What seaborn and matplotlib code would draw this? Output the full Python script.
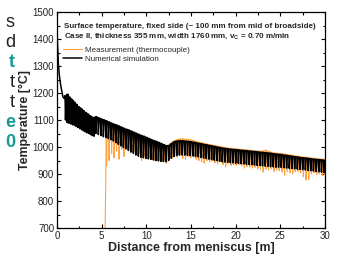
import pandas as pd
import matplotlib
matplotlib.use("Agg")
import matplotlib.pyplot as plt
from matplotlib.ticker import MultipleLocator
import seaborn as sns

# ====== DATA ======
# numerical simulation: steep drop right below the meniscus
sim_start_x = [0.0, 0.05, 0.1, 0.15, 0.25, 0.35, 0.45, 0.55, 0.67, 0.8]
sim_start_y = [1425, 1385, 1345, 1310, 1270, 1243, 1222, 1205, 1185, 1180]

# roll contacts: position [m], temperature between rolls, temperature at the roll
sim_roll_x = [
    0.9, 1.1, 1.3, 1.5, 1.7, 1.9, 2.1, 2.3, 2.5, 2.7, 2.9, 3.1, 3.3, 3.5, 3.7, 3.9, 4.1,
    4.30, 4.58, 4.86, 5.14, 5.42, 5.70, 5.98, 6.26, 6.54, 6.82,
    7.10, 7.38, 7.66, 7.94, 8.22, 8.50, 8.78, 9.06, 9.34, 9.62,
    9.90, 10.18, 10.46, 10.74, 11.02, 11.30, 11.58, 11.86, 12.14,
    12.45, 12.75, 13.05, 13.35, 13.65, 13.95, 14.25, 14.55, 14.85, 15.15,
    15.45, 15.75, 16.05, 16.35, 16.65, 16.95, 17.25, 17.55, 17.85, 18.15,
    18.45, 18.75, 19.05, 19.35, 19.65, 19.95, 20.25, 20.55, 20.85, 21.15,
    21.45, 21.75, 22.05, 22.35, 22.65, 22.95, 23.25, 23.55, 23.85, 24.15,
    24.45, 24.75, 25.05, 25.35, 25.65, 25.95, 26.25, 26.55, 26.85, 27.15,
    27.45, 27.75, 28.05, 28.35, 28.65, 28.95, 29.25, 29.55, 29.85,
]
sim_top = [
    1190, 1195, 1185, 1178, 1172, 1165, 1158, 1150, 1145, 1140, 1134, 1128, 1124, 1118, 1114, 1110, 1106,
    1112, 1108, 1104, 1101, 1097, 1093, 1089, 1085, 1082, 1078,
    1074, 1070, 1066, 1063, 1059, 1055, 1051, 1047, 1043, 1040,
    1036, 1032, 1028, 1024, 1021, 1017, 1013, 1009, 1005,
    1005, 1012, 1019, 1022, 1023, 1023, 1022, 1021, 1020, 1018,
    1016, 1014, 1012, 1010, 1008, 1006, 1004, 1002, 1000, 998,
    996, 995, 993, 992, 991, 990, 989, 988, 987, 986,
    985, 984, 983, 982, 981, 980, 979, 978, 977, 975,
    974, 973, 972, 970, 969, 967, 966, 964, 963, 961,
    960, 959, 958, 956, 955, 954, 953, 952, 951,
]
sim_low = [
    1100, 1090, 1088, 1085, 1082, 1080, 1076, 1072, 1068, 1064, 1060, 1056, 1052, 1050, 1046, 1042, 1040,
    1050, 1046, 1042, 1038, 1035, 1031, 1027, 1022, 1016, 1010,
    1004, 998, 993, 987, 981, 976, 970, 966, 962, 960,
    958, 956, 954, 952, 950, 948, 947, 946, 945,
    950, 958, 965, 968, 970, 970, 970, 969, 968, 967,
    965, 963, 961, 959, 957, 955, 953, 951, 949, 947,
    945, 944, 943, 942, 941, 940, 939, 938, 937, 936,
    935, 934, 933, 932, 931, 930, 929, 928, 927, 926,
    925, 925, 924, 923, 922, 921, 920, 919, 918, 917,
    916, 915, 913, 912, 911, 909, 908, 907, 905,
]

# thermocouple: enters the strand at ~5.4 m
meas_start_x = [5.38]
meas_start_y = [680]
meas_roll_x = [
    5.52, 5.80, 6.08, 6.36, 6.64, 6.92, 7.20, 7.48, 7.76, 8.04,
    8.32, 8.60, 8.88, 9.16, 9.44, 9.72, 10.00, 10.28, 10.56, 10.84,
    11.12, 11.40, 11.68, 11.96, 12.24,
    12.55, 12.85, 13.15, 13.45, 13.75, 14.05, 14.35, 14.65, 14.95, 15.25,
    15.55, 15.85, 16.15, 16.45, 16.75, 17.05, 17.35, 17.65, 17.95, 18.25,
    18.55, 18.85, 19.15, 19.45, 19.75, 20.05, 20.35, 20.65, 20.95, 21.25,
    21.55, 21.85, 22.15, 22.45, 22.75, 23.05, 23.35, 23.65, 23.95, 24.25,
    24.55, 24.85, 25.15, 25.45, 25.75, 26.05, 26.35, 26.65, 26.95, 27.25,
    27.55, 27.85, 28.15, 28.45, 28.75, 29.05, 29.35, 29.65, 29.95,
]
meas_top = [
    1030, 1075, 1082, 1080, 1076, 1072, 1068, 1064, 1060, 1057,
    1053, 1049, 1046, 1042, 1038, 1034, 1030, 1027, 1023, 1019,
    1015, 1011, 1008, 1004, 1000,
    1010, 1018, 1024, 1028, 1030, 1030, 1029, 1028, 1026, 1024,
    1020, 1018, 1016, 1013, 1011, 1009, 1007, 1005, 1003, 1001,
    999, 997, 996, 995, 994, 993, 992, 991, 990, 989,
    988, 987, 986, 985, 984, 986, 988, 984, 980, 978,
    977, 976, 975, 973, 972, 970, 969, 967, 966, 964,
    963, 962, 961, 959, 958, 957, 956, 955, 954,
]
meas_low = [
    930, 950, 975, 960, 985, 955, 990, 965, 1000, 995,
    1000, 985, 990, 975, 950, 965, 955, 960, 955, 950,
    955, 950, 945, 950, 940,
    955, 960, 968, 962, 970, 958, 955, 965, 960, 962,
    955, 950, 945, 940, 950, 945, 948, 942, 938, 945,
    935, 926, 938, 932, 935, 930, 935, 930, 922, 928,
    925, 922, 925, 920, 918, 907, 918, 915, 920, 910,
    915, 912, 908, 896, 910, 905, 900, 908, 910, 905,
    890, 878, 880, 900, 905, 898, 900, 895, 898,
]

x_ticks = [0, 5, 10, 15, 20, 25, 30]
y_ticks = [700, 800, 900, 1000, 1100, 1200, 1300, 1400, 1500]

# cut-off text of the neighbouring slide column
side_chars = ["s", "d", "t", "t", "t", "e", "0"]
side_teal = [False, False, True, False, False, True, True]

ORANGE = "#FFA23E"
TEAL = "#17999A"


def roll_path(xs, tops, lows, dip, back):
    # short dip at every roll contact, back up right after
    px, py = [], []
    for x, t, l in zip(xs, tops, lows):
        px.extend([x, x + dip, x + back])
        py.extend([t, l, t])
    return px, py


sx, sy = roll_path(sim_roll_x, sim_top, sim_low, 0.05, 0.13)
sim_df = pd.DataFrame({"dist": sim_start_x + sx, "temp": sim_start_y + sy})
mx, my = roll_path(meas_roll_x, meas_top, meas_low, 0.03, 0.08)
meas_df = pd.DataFrame({"dist": meas_start_x + mx, "temp": meas_start_y + my})

# ====== PLOT ======
sns.set_style("ticks")
plt.rcParams["font.family"] = ["Liberation Sans", "DejaVu Sans"]
plt.rcParams["mathtext.fontset"] = "custom"
plt.rcParams["mathtext.rm"] = "Liberation Sans"
plt.rcParams["mathtext.bf"] = "Liberation Sans:bold"

fig = plt.figure(figsize=(3.39, 2.61), dpi=100)
ax = fig.add_axes([57 / 339, 33 / 261, 268 / 339, 216 / 261])

sns.lineplot(data=meas_df, x="dist", y="temp", sort=False, estimator=None,
             color=ORANGE, lw=0.8, ax=ax, label="Measurement (thermocouple)")
sns.lineplot(data=sim_df, x="dist", y="temp", sort=False, estimator=None,
             color="black", lw=1.1, ax=ax, label="Numerical simulation")

ax.set_xlim(0, 30)
ax.set_ylim(700, 1500)
ax.set_xticks(x_ticks)
ax.set_yticks(y_ticks)
ax.xaxis.set_minor_locator(MultipleLocator(2.5))
ax.yaxis.set_minor_locator(MultipleLocator(50))
ax.tick_params(which="both", direction="in", top=True, right=True,
               width=0.8, color="black", labelsize=7, labelcolor="#222222", pad=2)
ax.tick_params(which="major", length=3)
ax.tick_params(which="minor", length=1.8)
for sp in ax.spines.values():
    sp.set_linewidth(0.9)
    sp.set_color("black")

ax.set_xlabel("Distance from meniscus [m]", fontsize=8.9, fontweight="bold", labelpad=1)
ax.set_ylabel("Temperature [°C]", fontsize=8.9, fontweight="bold", labelpad=1)

ax.text(0.026, 0.935, "Surface temperature, fixed side (~ 100 mm from mid of broadside)",
        transform=ax.transAxes, fontsize=5.75, fontweight="bold", va="center")
ax.text(0.026, 0.889, r"Case II, thickness 355 mm, width 1760 mm, v$_\mathbf{C}$ = 0.70 m/min",
        transform=ax.transAxes, fontsize=5.75, fontweight="bold", va="center")

ax.legend(loc="upper left", bbox_to_anchor=(0.0, 0.872), frameon=False, fontsize=5.8,
          handlelength=2.3, handletextpad=0.4, labelspacing=0.2, borderpad=0.3)

for i, (ch, teal) in enumerate(zip(side_chars, side_teal)):
    fig.text(15 / 339, 1 - (27 + 20 * i) / 261, ch, ha="right", va="baseline",
             fontsize=13, color=TEAL if teal else "#222222",
             fontweight="bold" if teal else "normal")

fig.savefig("out.png", dpi=100)
print("saved out.png")
